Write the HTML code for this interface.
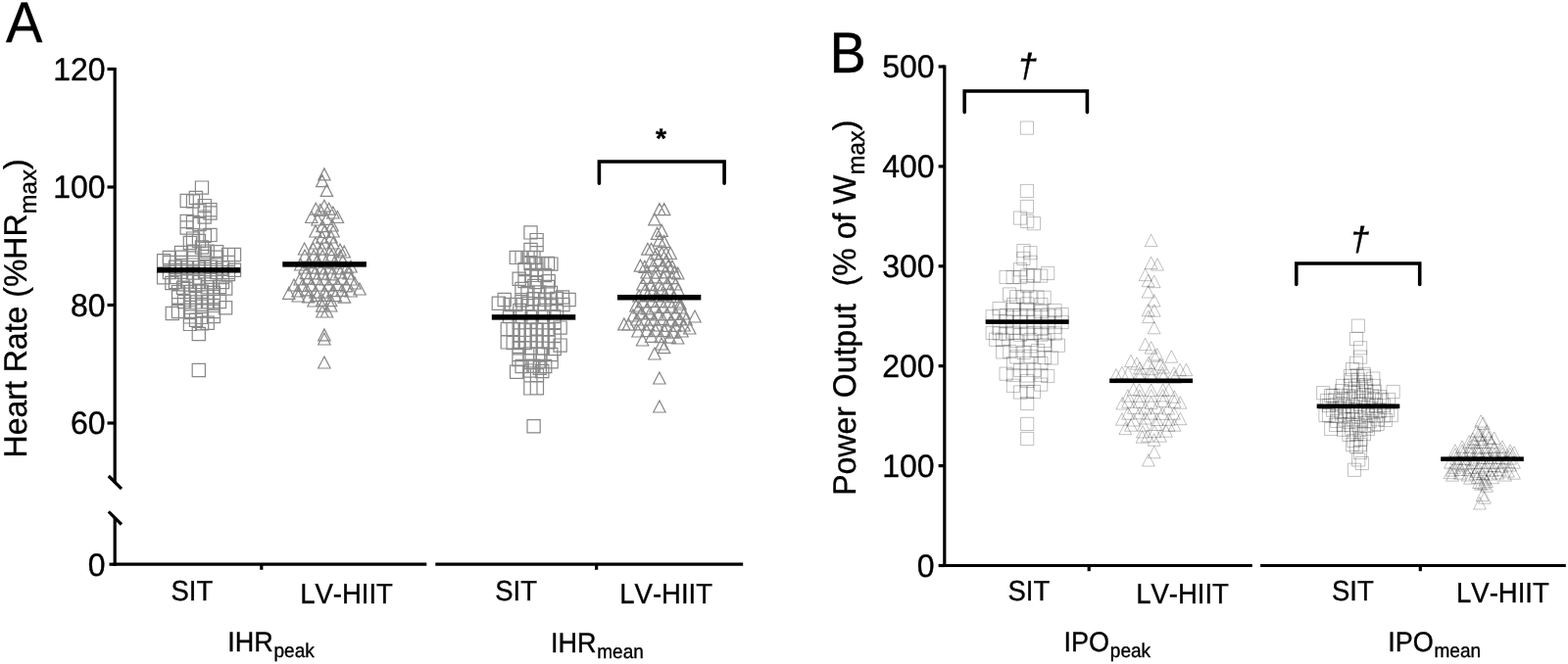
<!DOCTYPE html>
<html lang="en">
<head>
<meta charset="utf-8">
<title>Figure: Heart rate and power output during SIT and LV-HIIT</title>
<style>
html,body{margin:0;padding:0;background:#fff;}
body{width:1600px;height:678px;overflow:hidden;}
svg{display:block;font-family:"Liberation Sans", sans-serif;fill:#000;font-kerning:none;text-rendering:geometricPrecision;}
svg text{stroke:#000;stroke-width:0.35px;}
</style>
</head>
<body>
<svg width="1600" height="678" viewBox="0 0 1600 678">
<rect width="1600" height="678" fill="#fff"/>
<path d="M199.4 185.0h13.2v13.2h-13.2zM193.3 195.4h13.2v13.2h-13.2zM184.1 198.4h13.2v13.2h-13.2zM190.4 198.9h13.2v13.2h-13.2zM202.2 203.5h13.2v13.2h-13.2zM207.9 207.6h13.2v13.2h-13.2zM196.9 208.2h13.2v13.2h-13.2zM207.9 210.9h13.2v13.2h-13.2zM202.1 215.0h13.2v13.2h-13.2zM184.1 219.4h13.2v13.2h-13.2zM190.4 220.4h13.2v13.2h-13.2zM184.1 225.9h13.2v13.2h-13.2zM196.9 222.4h13.2v13.2h-13.2zM207.9 233.3h13.2v13.2h-13.2zM202.2 234.1h13.2v13.2h-13.2zM190.4 237.0h13.2v13.2h-13.2zM187.3 241.4h13.2v13.2h-13.2zM196.4 239.4h13.2v13.2h-13.2zM199.4 245.9h13.2v13.2h-13.2zM205.1 250.0h13.2v13.2h-13.2zM214.6 250.7h13.2v13.2h-13.2zM226.4 253.3h13.2v13.2h-13.2zM232.4 253.4h13.2v13.2h-13.2zM166.2 256.4h13.2v13.2h-13.2zM160.5 259.6h13.2v13.2h-13.2zM196.2 334.4h13.2v13.2h-13.2zM196.2 371.4h13.2v13.2h-13.2zM169.2 313.4h13.2v13.2h-13.2zM223.5 307.6h13.2v13.2h-13.2zM187.3 324.3h13.2v13.2h-13.2zM193.4 320.1h13.2v13.2h-13.2zM199.5 323.6h13.2v13.2h-13.2zM205.1 323.2h13.2v13.2h-13.2zM160.5 276.7h13.2v13.2h-13.2zM232.4 269.1h13.2v13.2h-13.2zM226.4 273.4h13.2v13.2h-13.2zM168.8 282.4h13.2v13.2h-13.2zM223.6 288.0h13.2v13.2h-13.2zM175.6 296.9h13.2v13.2h-13.2zM178.4 251.4h13.2v13.2h-13.2zM190.4 250.8h13.2v13.2h-13.2zM202.4 252.1h13.2v13.2h-13.2zM178.4 256.2h13.2v13.2h-13.2zM190.4 256.9h13.2v13.2h-13.2zM202.4 255.3h13.2v13.2h-13.2zM214.4 256.1h13.2v13.2h-13.2zM166.4 261.4h13.2v13.2h-13.2zM178.4 261.4h13.2v13.2h-13.2zM190.4 261.3h13.2v13.2h-13.2zM202.4 261.5h13.2v13.2h-13.2zM214.4 262.3h13.2v13.2h-13.2zM226.4 261.4h13.2v13.2h-13.2zM172.4 266.2h13.2v13.2h-13.2zM184.4 266.6h13.2v13.2h-13.2zM196.4 266.6h13.2v13.2h-13.2zM208.4 266.2h13.2v13.2h-13.2zM220.4 266.8h13.2v13.2h-13.2zM166.4 271.4h13.2v13.2h-13.2zM178.4 271.1h13.2v13.2h-13.2zM190.4 271.9h13.2v13.2h-13.2zM202.4 270.6h13.2v13.2h-13.2zM214.4 271.5h13.2v13.2h-13.2zM226.4 271.4h13.2v13.2h-13.2zM172.4 276.3h13.2v13.2h-13.2zM184.4 275.2h13.2v13.2h-13.2zM196.4 277.0h13.2v13.2h-13.2zM208.4 276.2h13.2v13.2h-13.2zM220.4 276.4h13.2v13.2h-13.2zM172.4 281.4h13.2v13.2h-13.2zM184.4 281.0h13.2v13.2h-13.2zM196.4 281.3h13.2v13.2h-13.2zM208.4 281.6h13.2v13.2h-13.2zM220.4 281.4h13.2v13.2h-13.2zM180.5 287.2h13.2v13.2h-13.2zM192.8 285.2h13.2v13.2h-13.2zM205.1 286.7h13.2v13.2h-13.2zM217.4 286.4h13.2v13.2h-13.2zM175.4 291.4h13.2v13.2h-13.2zM187.4 291.3h13.2v13.2h-13.2zM199.4 291.1h13.2v13.2h-13.2zM211.4 292.4h13.2v13.2h-13.2zM187.4 297.2h13.2v13.2h-13.2zM199.4 296.9h13.2v13.2h-13.2zM211.4 296.5h13.2v13.2h-13.2zM181.4 301.4h13.2v13.2h-13.2zM193.4 301.8h13.2v13.2h-13.2zM205.4 301.7h13.2v13.2h-13.2zM217.4 301.4h13.2v13.2h-13.2zM187.4 307.3h13.2v13.2h-13.2zM199.4 306.2h13.2v13.2h-13.2zM211.4 305.3h13.2v13.2h-13.2zM175.4 311.4h13.2v13.2h-13.2zM187.4 312.5h13.2v13.2h-13.2zM199.4 311.0h13.2v13.2h-13.2zM211.4 311.4h13.2v13.2h-13.2zM187.4 316.8h13.2v13.2h-13.2zM199.4 317.3h13.2v13.2h-13.2zM211.4 316.4h13.2v13.2h-13.2z" fill="none" stroke="#888" stroke-width="1.2"/>
<path d="M330.9 171.9L337.1 183.9H324.7zM328.8 178.6L335.0 190.6H322.6zM333.4 188.4L339.6 200.4H327.2zM330.9 204.2L337.1 216.2H324.7zM322.2 207.2L328.4 219.2H316.0zM326.8 208.5L333.0 220.5H320.6zM335.7 207.2L341.9 219.2H329.5zM339.9 211.0L346.1 223.0H333.7zM344.4 215.5L350.6 227.5H338.2zM317.8 215.5L324.0 227.5H311.6zM330.9 335.9L337.1 347.9H324.7zM330.9 340.0L337.1 352.0H324.7zM330.9 364.0L337.1 376.0H324.7zM328.9 312.0L335.1 324.0H322.7zM333.5 312.0L339.7 324.0H327.3zM294.8 293.3L301.0 305.3H288.6zM367.0 289.0L373.2 301.0H360.8zM304.3 296.0L310.5 308.0H298.1zM310.6 248.0L316.8 260.0H304.4zM351.2 251.0L357.4 263.0H345.0zM306.8 264.0L313.0 276.0H300.6zM358.0 266.0L364.2 278.0H351.8zM300.0 285.0L306.2 297.0H293.8zM362.0 283.0L368.2 295.0H355.8zM324.0 218.0L330.2 230.0H317.8zM333.3 217.4L339.5 229.4H327.1zM329.0 224.7L335.2 236.7H322.8zM339.0 224.0L345.2 236.0H332.8zM322.0 230.0L328.2 242.0H315.8zM331.0 230.5L337.2 242.5H324.8zM340.0 230.0L346.2 242.0H333.8zM328.7 236.1L334.9 248.1H322.5zM338.0 236.0L344.2 248.0H331.8zM322.0 242.0L328.2 254.0H315.8zM331.0 242.0L337.2 254.0H324.8zM340.0 242.0L346.2 254.0H333.8zM319.6 247.9L325.8 259.9H313.4zM328.7 248.2L334.9 260.2H322.5zM337.9 248.6L344.1 260.6H331.7zM347.0 249.0L353.2 261.0H340.8zM311.0 255.0L317.2 267.0H304.8zM320.1 255.2L326.3 267.2H313.9zM329.2 255.2L335.4 267.2H323.0zM338.3 254.8L344.5 266.8H332.1zM347.4 255.4L353.6 267.4H341.2zM315.3 261.7L321.5 273.7H309.1zM323.9 259.9L330.1 271.9H317.7zM332.5 261.2L338.7 273.2H326.3zM341.1 262.2L347.3 274.2H334.9zM349.7 260.4L355.9 272.4H343.5zM311.0 267.0L317.2 279.0H304.8zM319.6 267.1L325.8 279.1H313.4zM328.2 267.8L334.4 279.8H322.0zM336.8 267.0L343.0 279.0H330.6zM345.4 267.9L351.6 279.9H339.2zM354.0 267.0L360.2 279.0H347.8zM312.4 272.6L318.6 284.6H306.2zM321.1 272.9L327.3 284.9H314.9zM329.8 273.2L336.0 285.2H323.6zM338.5 273.8L344.7 285.8H332.3zM347.3 272.0L353.5 284.0H341.1zM356.0 273.0L362.2 285.0H349.8zM306.0 279.0L312.2 291.0H299.8zM314.7 278.0L320.9 290.0H308.5zM323.3 278.5L329.5 290.5H317.1zM332.0 278.9L338.2 290.9H325.8zM340.7 278.3L346.9 290.3H334.5zM349.3 278.3L355.5 290.3H343.1zM358.0 279.0L364.2 291.0H351.8zM308.5 285.5L314.7 297.5H302.3zM317.5 285.1L323.7 297.1H311.3zM326.5 285.0L332.7 297.0H320.3zM335.5 285.2L341.7 297.2H329.3zM344.5 284.5L350.7 296.5H338.3zM353.5 285.9L359.7 297.9H347.3zM304.0 291.0L310.2 303.0H297.8zM313.0 289.8L319.2 301.8H306.8zM322.0 292.1L328.2 304.1H315.8zM331.0 292.1L337.2 304.1H324.8zM340.0 290.6L346.2 302.6H333.8zM349.0 290.3L355.2 302.3H342.8zM358.0 291.0L364.2 303.0H351.8zM314.6 296.9L320.8 308.9H308.4zM323.8 295.6L330.0 307.6H317.6zM333.0 295.3L339.2 307.3H326.8zM342.2 295.6L348.4 307.6H336.0zM351.4 297.2L357.6 309.2H345.2zM320.0 301.0L326.2 313.0H313.8zM328.8 300.3L335.0 312.3H322.6zM337.6 300.7L343.8 312.7H331.4zM328.8 306.2L335.0 318.2H322.6zM337.7 306.0L343.9 318.0H331.5z" fill="none" stroke="#888" stroke-width="1.2"/>
<path d="M534.9 230.8h13.2v13.2h-13.2zM541.0 238.5h13.2v13.2h-13.2zM541.0 243.4h13.2v13.2h-13.2zM534.9 248.4h13.2v13.2h-13.2zM520.2 256.3h13.2v13.2h-13.2zM555.8 263.0h13.2v13.2h-13.2zM523.1 278.1h13.2v13.2h-13.2zM553.1 280.6h13.2v13.2h-13.2zM525.9 288.4h13.2v13.2h-13.2zM567.4 296.9h13.2v13.2h-13.2zM502.2 303.2h13.2v13.2h-13.2zM574.0 299.4h13.2v13.2h-13.2zM508.1 299.4h13.2v13.2h-13.2zM511.2 329.4h13.2v13.2h-13.2zM565.0 328.0h13.2v13.2h-13.2zM511.2 342.8h13.2v13.2h-13.2zM565.0 346.0h13.2v13.2h-13.2zM520.5 373.1h13.2v13.2h-13.2zM534.8 389.8h13.2v13.2h-13.2zM541.3 389.6h13.2v13.2h-13.2zM534.8 376.7h13.2v13.2h-13.2zM541.4 376.7h13.2v13.2h-13.2zM544.2 369.2h13.2v13.2h-13.2zM556.0 362.6h13.2v13.2h-13.2zM538.0 428.7h13.2v13.2h-13.2zM526.0 256.3h13.2v13.2h-13.2zM531.9 256.3h13.2v13.2h-13.2zM522.9 360.4h13.2v13.2h-13.2zM514.0 304.4h13.2v13.2h-13.2zM537.8 256.4h13.2v13.2h-13.2zM534.9 262.4h13.2v13.2h-13.2zM540.7 263.0h13.2v13.2h-13.2zM546.6 262.4h13.2v13.2h-13.2zM552.4 262.4h13.2v13.2h-13.2zM528.9 268.4h13.2v13.2h-13.2zM540.8 269.2h13.2v13.2h-13.2zM535.7 274.3h13.2v13.2h-13.2zM549.4 274.4h13.2v13.2h-13.2zM528.9 280.4h13.2v13.2h-13.2zM540.9 281.5h13.2v13.2h-13.2zM538.7 285.3h13.2v13.2h-13.2zM552.4 286.4h13.2v13.2h-13.2zM531.9 292.4h13.2v13.2h-13.2zM543.6 291.9h13.2v13.2h-13.2zM555.4 292.4h13.2v13.2h-13.2zM525.8 299.6h13.2v13.2h-13.2zM537.7 298.9h13.2v13.2h-13.2zM549.5 299.2h13.2v13.2h-13.2zM561.4 298.4h13.2v13.2h-13.2zM519.9 304.4h13.2v13.2h-13.2zM531.9 303.3h13.2v13.2h-13.2zM543.9 303.6h13.2v13.2h-13.2zM555.9 304.1h13.2v13.2h-13.2zM567.9 304.4h13.2v13.2h-13.2zM523.7 310.4h13.2v13.2h-13.2zM536.3 311.6h13.2v13.2h-13.2zM548.8 310.4h13.2v13.2h-13.2zM561.4 310.4h13.2v13.2h-13.2zM513.4 316.4h13.2v13.2h-13.2zM524.7 316.6h13.2v13.2h-13.2zM536.1 317.5h13.2v13.2h-13.2zM547.4 317.3h13.2v13.2h-13.2zM558.7 316.5h13.2v13.2h-13.2zM523.1 322.6h13.2v13.2h-13.2zM535.1 322.1h13.2v13.2h-13.2zM547.1 322.7h13.2v13.2h-13.2zM559.1 322.4h13.2v13.2h-13.2zM517.1 329.4h13.2v13.2h-13.2zM529.1 330.1h13.2v13.2h-13.2zM541.1 329.8h13.2v13.2h-13.2zM553.1 330.0h13.2v13.2h-13.2zM523.1 336.0h13.2v13.2h-13.2zM535.1 335.6h13.2v13.2h-13.2zM547.1 336.0h13.2v13.2h-13.2zM559.1 336.4h13.2v13.2h-13.2zM517.1 343.4h13.2v13.2h-13.2zM529.1 343.4h13.2v13.2h-13.2zM541.1 342.2h13.2v13.2h-13.2zM553.1 342.6h13.2v13.2h-13.2zM523.1 348.7h13.2v13.2h-13.2zM535.1 348.7h13.2v13.2h-13.2zM547.1 349.0h13.2v13.2h-13.2zM559.1 349.4h13.2v13.2h-13.2zM522.9 355.4h13.2v13.2h-13.2zM533.8 354.9h13.2v13.2h-13.2zM544.8 354.8h13.2v13.2h-13.2zM555.7 355.4h13.2v13.2h-13.2zM534.2 361.6h13.2v13.2h-13.2zM544.6 361.9h13.2v13.2h-13.2zM526.0 367.4h13.2v13.2h-13.2zM537.8 367.2h13.2v13.2h-13.2zM549.6 367.4h13.2v13.2h-13.2zM534.8 372.0h13.2v13.2h-13.2zM546.7 372.4h13.2v13.2h-13.2z" fill="none" stroke="#888" stroke-width="1.2"/>
<path d="M672.9 207.6L679.1 219.6H666.7zM677.7 207.6L683.9 219.6H671.5zM667.9 217.9L674.1 229.9H661.7zM675.2 229.4L681.4 241.4H669.0zM670.6 232.4L676.8 244.4H664.4zM672.9 239.2L679.1 251.2H666.7zM677.7 240.6L683.9 252.6H671.5zM660.9 248.2L667.1 260.2H654.7zM664.6 248.2L670.8 260.2H658.4zM669.9 253.0L676.1 265.0H663.7zM675.2 252.5L681.4 264.5H669.0zM679.7 252.5L685.9 264.5H673.5zM684.2 252.5L690.4 264.5H678.0zM653.4 265.1L659.6 277.1H647.2zM657.9 266.3L664.1 278.3H651.7zM681.9 265.6L688.1 277.6H675.7zM691.7 273.0L697.9 285.0H685.5zM709.0 317.0L715.2 329.0H702.8zM636.8 324.9L643.0 336.9H630.6zM641.3 325.1L647.5 337.1H635.1zM703.7 329.0L709.9 341.0H697.5zM655.6 341.0L661.8 353.0H649.4zM691.7 339.0L697.9 351.0H685.5zM675.0 345.0L681.2 357.0H668.8zM677.7 348.6L683.9 360.6H671.5zM667.9 355.0L674.1 367.0H661.7zM672.9 380.0L679.1 392.0H666.7zM672.9 409.0L679.1 421.0H666.7zM649.0 306.0L655.2 318.0H642.8zM694.0 304.0L700.2 316.0H687.8zM646.0 316.0L652.2 328.0H639.8zM700.0 320.0L706.2 332.0H693.8zM664.0 260.0L670.2 272.0H657.8zM672.0 259.4L678.2 271.4H665.8zM680.0 260.0L686.2 272.0H673.8zM666.8 264.9L673.0 276.9H660.6zM676.4 264.8L682.6 276.8H670.2zM686.0 266.0L692.2 278.0H679.8zM660.0 272.0L666.2 284.0H653.8zM669.3 272.1L675.5 284.1H663.1zM678.7 271.8L684.9 283.8H672.5zM688.0 272.0L694.2 284.0H681.8zM660.2 277.4L666.4 289.4H654.0zM668.8 276.9L675.0 288.9H662.6zM677.2 277.2L683.4 289.2H671.0zM685.8 277.6L692.0 289.6H679.6zM656.0 284.0L662.2 296.0H649.8zM664.4 284.4L670.6 296.4H658.2zM672.8 284.8L679.0 296.8H666.6zM681.1 283.4L687.3 295.4H674.9zM689.5 284.0L695.7 296.0H683.3zM658.2 290.4L664.4 302.4H652.0zM666.7 290.7L672.9 302.7H660.5zM675.1 288.9L681.3 300.9H668.9zM683.6 290.2L689.8 302.2H677.4zM692.0 290.0L698.2 302.0H685.8zM652.0 296.0L658.2 308.0H645.8zM660.9 295.4L667.1 307.4H654.7zM669.8 295.9L676.0 307.9H663.6zM678.7 294.8L684.9 306.8H672.5zM687.6 296.6L693.8 308.6H681.4zM656.4 301.8L662.6 313.8H650.2zM665.3 301.3L671.5 313.3H659.1zM674.2 301.6L680.4 313.6H668.0zM683.1 301.9L689.3 313.9H676.9zM692.0 302.0L698.2 314.0H685.8zM652.0 308.0L658.2 320.0H645.8zM660.4 308.8L666.6 320.8H654.2zM668.8 307.0L675.0 319.0H662.6zM677.2 307.4L683.4 319.4H671.0zM685.6 307.0L691.8 319.0H679.4zM694.0 308.0L700.2 320.0H687.8zM654.4 313.9L660.6 325.9H648.2zM663.1 313.7L669.3 325.7H656.9zM671.8 315.0L678.0 327.0H665.6zM680.5 314.8L686.7 326.8H674.3zM689.3 314.5L695.5 326.5H683.1zM698.0 314.0L704.2 326.0H691.8zM650.0 320.0L656.2 332.0H643.8zM658.7 320.0L664.9 332.0H652.5zM667.5 320.2L673.7 332.2H661.3zM676.2 319.5L682.4 331.5H670.0zM684.9 320.9L691.1 332.9H678.7zM693.6 319.8L699.8 331.8H687.4zM652.5 324.9L658.7 336.9H646.3zM661.6 325.2L667.8 337.2H655.4zM670.7 326.0L676.9 338.0H664.5zM679.8 326.4L686.0 338.4H673.6zM688.9 326.4L695.1 338.4H682.7zM698.0 326.0L704.2 338.0H691.8zM651.0 332.0L657.2 344.0H644.8zM660.0 331.6L666.2 343.6H653.8zM669.0 331.3L675.2 343.3H662.8zM678.0 331.6L684.2 343.6H671.8zM687.0 333.2L693.2 345.2H680.8zM696.0 332.0L702.2 344.0H689.8zM664.7 337.3L670.9 349.3H658.5zM674.0 337.7L680.2 349.7H667.8zM683.3 338.2L689.5 350.2H677.1z" fill="none" stroke="#888" stroke-width="1.2"/>
<g fill="none" stroke="#000" stroke-width="0.6" stroke-opacity="0.42"><path d="M1041.3 124.0h13.2v13.2h-13.2z"/><path d="M1041.3 188.4h13.2v13.2h-13.2z"/><path d="M1041.3 204.4h13.2v13.2h-13.2z"/><path d="M1034.4 216.0h13.2v13.2h-13.2z"/><path d="M1041.6 219.4h13.2v13.2h-13.2z"/><path d="M1048.3 221.6h13.2v13.2h-13.2z"/><path d="M1037.8 249.5h13.2v13.2h-13.2z"/><path d="M1044.8 251.6h13.2v13.2h-13.2z"/><path d="M1037.8 257.3h13.2v13.2h-13.2z"/><path d="M1044.8 261.2h13.2v13.2h-13.2z"/><path d="M1034.4 268.6h13.2v13.2h-13.2z"/><path d="M1020.0 276.4h13.2v13.2h-13.2z"/><path d="M1027.1 276.4h13.2v13.2h-13.2z"/><path d="M1034.4 276.4h13.2v13.2h-13.2z"/><path d="M1041.6 274.9h13.2v13.2h-13.2z"/><path d="M1048.3 274.9h13.2v13.2h-13.2z"/><path d="M1055.6 275.0h13.2v13.2h-13.2z"/><path d="M1062.6 272.4h13.2v13.2h-13.2z"/><path d="M1013.0 308.5h13.2v13.2h-13.2z"/><path d="M1006.1 316.7h13.2v13.2h-13.2z"/><path d="M1077.0 314.5h13.2v13.2h-13.2z"/><path d="M1006.1 333.3h13.2v13.2h-13.2z"/><path d="M1009.4 340.1h13.2v13.2h-13.2z"/><path d="M1073.3 346.1h13.2v13.2h-13.2z"/><path d="M1016.6 352.8h13.2v13.2h-13.2z"/><path d="M1066.4 358.9h13.2v13.2h-13.2z"/><path d="M1020.0 375.1h13.2v13.2h-13.2z"/><path d="M1062.6 377.4h13.2v13.2h-13.2z"/><path d="M1027.3 387.2h13.2v13.2h-13.2z"/><path d="M1055.6 386.0h13.2v13.2h-13.2z"/><path d="M1034.4 393.9h13.2v13.2h-13.2z"/><path d="M1041.4 393.6h13.2v13.2h-13.2z"/><path d="M1048.3 393.4h13.2v13.2h-13.2z"/><path d="M1041.6 405.4h13.2v13.2h-13.2z"/><path d="M1041.6 426.3h13.2v13.2h-13.2z"/><path d="M1041.6 441.4h13.2v13.2h-13.2z"/><path d="M1023.5 293.9h13.2v13.2h-13.2z"/><path d="M1030.6 296.4h13.2v13.2h-13.2z"/><path d="M1037.7 296.9h13.2v13.2h-13.2z"/><path d="M1044.8 296.9h13.2v13.2h-13.2z"/><path d="M1051.9 296.9h13.2v13.2h-13.2z"/><path d="M1059.0 297.2h13.2v13.2h-13.2z"/><path d="M1041.6 285.4h13.2v13.2h-13.2z"/><path d="M1027.4 304.4h13.2v13.2h-13.2z"/><path d="M1041.6 303.8h13.2v13.2h-13.2z"/><path d="M1055.8 304.4h13.2v13.2h-13.2z"/><path d="M1027.3 309.3h13.2v13.2h-13.2z"/><path d="M1041.5 309.2h13.2v13.2h-13.2z"/><path d="M1055.7 311.5h13.2v13.2h-13.2z"/><path d="M1069.9 310.4h13.2v13.2h-13.2z"/><path d="M1013.2 315.9h13.2v13.2h-13.2z"/><path d="M1020.3 315.6h13.2v13.2h-13.2z"/><path d="M1027.4 315.7h13.2v13.2h-13.2z"/><path d="M1034.5 315.2h13.2v13.2h-13.2z"/><path d="M1041.6 315.9h13.2v13.2h-13.2z"/><path d="M1048.7 315.3h13.2v13.2h-13.2z"/><path d="M1055.8 315.8h13.2v13.2h-13.2z"/><path d="M1062.9 314.8h13.2v13.2h-13.2z"/><path d="M1070.0 315.9h13.2v13.2h-13.2z"/><path d="M1020.1 321.6h13.2v13.2h-13.2z"/><path d="M1034.3 322.0h13.2v13.2h-13.2z"/><path d="M1048.6 322.2h13.2v13.2h-13.2z"/><path d="M1062.8 322.6h13.2v13.2h-13.2z"/><path d="M1077.0 322.4h13.2v13.2h-13.2z"/><path d="M1013.0 328.4h13.2v13.2h-13.2z"/><path d="M1027.2 328.2h13.2v13.2h-13.2z"/><path d="M1041.4 328.8h13.2v13.2h-13.2z"/><path d="M1055.7 329.1h13.2v13.2h-13.2z"/><path d="M1069.9 327.3h13.2v13.2h-13.2z"/><path d="M1013.2 333.9h13.2v13.2h-13.2z"/><path d="M1020.3 334.1h13.2v13.2h-13.2z"/><path d="M1027.4 333.1h13.2v13.2h-13.2z"/><path d="M1034.5 335.1h13.2v13.2h-13.2z"/><path d="M1041.6 334.0h13.2v13.2h-13.2z"/><path d="M1048.7 333.3h13.2v13.2h-13.2z"/><path d="M1055.8 335.0h13.2v13.2h-13.2z"/><path d="M1062.9 333.8h13.2v13.2h-13.2z"/><path d="M1070.0 333.9h13.2v13.2h-13.2z"/><path d="M1016.4 340.4h13.2v13.2h-13.2z"/><path d="M1030.7 341.2h13.2v13.2h-13.2z"/><path d="M1045.0 340.4h13.2v13.2h-13.2z"/><path d="M1059.3 341.3h13.2v13.2h-13.2z"/><path d="M1030.8 346.4h13.2v13.2h-13.2z"/><path d="M1045.1 346.7h13.2v13.2h-13.2z"/><path d="M1059.3 345.8h13.2v13.2h-13.2z"/><path d="M1023.7 352.4h13.2v13.2h-13.2z"/><path d="M1038.0 353.2h13.2v13.2h-13.2z"/><path d="M1052.3 351.4h13.2v13.2h-13.2z"/><path d="M1030.8 357.8h13.2v13.2h-13.2z"/><path d="M1045.1 357.4h13.2v13.2h-13.2z"/><path d="M1059.4 358.4h13.2v13.2h-13.2z"/><path d="M1027.4 364.4h13.2v13.2h-13.2z"/><path d="M1041.6 364.3h13.2v13.2h-13.2z"/><path d="M1055.8 364.4h13.2v13.2h-13.2z"/><path d="M1034.5 371.4h13.2v13.2h-13.2z"/><path d="M1048.7 371.2h13.2v13.2h-13.2z"/><path d="M1027.4 376.4h13.2v13.2h-13.2z"/><path d="M1041.6 376.9h13.2v13.2h-13.2z"/><path d="M1055.8 376.4h13.2v13.2h-13.2z"/><path d="M1041.5 382.4h13.2v13.2h-13.2z"/></g>
<g fill="none" stroke="#000" stroke-width="0.6" stroke-opacity="0.42"><path d="M1174.6 239.2L1181.0 251.6H1168.2z"/><path d="M1174.6 262.2L1181.0 274.6H1168.2z"/><path d="M1181.0 263.7L1187.4 276.1H1174.6z"/><path d="M1168.6 274.3L1175.0 286.7H1162.2z"/><path d="M1171.6 280.3L1178.0 292.7H1165.2z"/><path d="M1177.7 281.3L1184.1 293.7H1171.3z"/><path d="M1171.6 291.6L1178.0 304.0H1165.2z"/><path d="M1177.7 300.6L1184.1 313.0H1171.3z"/><path d="M1171.6 310.4L1178.0 322.8H1165.2z"/><path d="M1177.7 310.8L1184.1 323.2H1171.3z"/><path d="M1171.9 317.2L1178.3 329.6H1165.5z"/><path d="M1177.7 328.4L1184.1 340.8H1171.3z"/><path d="M1168.6 345.3L1175.0 357.7H1162.2z"/><path d="M1174.6 348.7L1181.0 361.1H1168.2z"/><path d="M1180.7 355.5L1187.1 367.9H1174.3z"/><path d="M1177.7 356.8L1184.1 369.2H1171.3z"/><path d="M1153.9 362.3L1160.3 374.7H1147.5z"/><path d="M1195.4 357.8L1201.8 370.2H1189.0z"/><path d="M1138.9 376.6L1145.3 389.0H1132.5z"/><path d="M1144.9 374.3L1151.3 386.7H1138.5z"/><path d="M1204.0 371.3L1210.4 383.7H1197.6z"/><path d="M1210.4 371.3L1216.8 383.7H1204.0z"/><path d="M1145.3 405.6L1151.7 418.0H1138.9z"/><path d="M1204.4 404.8L1210.8 417.2H1198.0z"/><path d="M1144.9 421.8L1151.3 434.2H1138.5z"/><path d="M1204.4 421.3L1210.8 433.7H1198.0z"/><path d="M1148.3 431.3L1154.7 443.7H1141.9z"/><path d="M1198.4 427.8L1204.8 440.2H1192.0z"/><path d="M1165.6 439.8L1172.0 452.2H1159.2z"/><path d="M1177.7 442.8L1184.1 455.2H1171.3z"/><path d="M1177.7 455.4L1184.1 467.8H1171.3z"/><path d="M1171.9 463.6L1178.3 476.0H1165.5z"/><path d="M1156.6 391.3L1163.0 403.7H1150.2z"/><path d="M1192.7 391.8L1199.1 404.2H1186.3z"/><path d="M1150.9 397.8L1157.3 410.2H1144.5z"/><path d="M1198.4 398.8L1204.8 411.2H1192.0z"/><path d="M1160.0 364.8L1166.4 377.2H1153.6z"/><path d="M1172.0 364.2L1178.4 376.6H1165.6z"/><path d="M1184.0 365.5L1190.4 377.9H1177.6z"/><path d="M1163.0 369.6L1169.4 382.0H1156.6z"/><path d="M1175.0 370.3L1181.4 382.7H1168.6z"/><path d="M1187.0 368.7L1193.4 381.1H1180.6z"/><path d="M1151.0 374.8L1157.4 387.2H1144.6z"/><path d="M1162.8 374.6L1169.2 387.0H1156.4z"/><path d="M1174.5 374.8L1180.9 387.2H1168.1z"/><path d="M1186.2 374.7L1192.6 387.1H1179.8z"/><path d="M1198.0 374.8L1204.4 387.2H1191.6z"/><path d="M1163.0 378.0L1169.4 390.4H1156.6z"/><path d="M1175.0 378.4L1181.4 390.8H1168.6z"/><path d="M1187.0 378.6L1193.4 391.0H1180.6z"/><path d="M1199.0 378.8L1205.4 391.2H1192.6z"/><path d="M1162.6 391.8L1169.0 404.2H1156.2z"/><path d="M1174.7 392.0L1181.1 404.4H1168.3z"/><path d="M1186.7 391.8L1193.1 404.2H1180.3z"/><path d="M1162.9 397.9L1169.3 410.3H1156.5z"/><path d="M1174.7 397.7L1181.1 410.1H1168.3z"/><path d="M1186.5 397.5L1192.9 409.9H1180.1z"/><path d="M1151.0 403.8L1157.4 416.2H1144.6z"/><path d="M1162.8 404.0L1169.2 416.4H1156.4z"/><path d="M1174.7 405.0L1181.1 417.4H1168.3z"/><path d="M1186.6 403.2L1193.0 415.6H1180.2z"/><path d="M1198.4 403.8L1204.8 416.2H1192.0z"/><path d="M1156.9 409.9L1163.3 422.3H1150.5z"/><path d="M1168.6 410.6L1175.0 423.0H1162.2z"/><path d="M1180.4 409.8L1186.8 422.2H1174.0z"/><path d="M1192.1 410.7L1198.5 423.1H1185.7z"/><path d="M1151.0 415.8L1157.4 428.2H1144.6z"/><path d="M1162.8 415.4L1169.2 427.8H1156.4z"/><path d="M1174.5 415.7L1180.9 428.1H1168.1z"/><path d="M1186.2 416.0L1192.6 428.4H1179.8z"/><path d="M1198.0 415.8L1204.4 428.2H1191.6z"/><path d="M1156.8 422.6L1163.2 435.0H1150.4z"/><path d="M1168.7 420.6L1175.1 433.0H1162.3z"/><path d="M1180.6 422.1L1187.0 434.5H1174.2z"/><path d="M1192.5 421.9L1198.9 434.3H1186.1z"/><path d="M1154.0 427.8L1160.4 440.2H1147.6z"/><path d="M1166.8 427.7L1173.2 440.1H1160.4z"/><path d="M1179.7 427.1L1186.1 439.5H1173.3z"/><path d="M1192.5 427.8L1198.9 440.2H1186.1z"/><path d="M1166.0 434.6L1172.4 447.0H1159.6z"/><path d="M1178.0 434.3L1184.4 446.7H1171.6z"/><path d="M1190.0 433.8L1196.4 446.2H1183.6z"/><path d="M1171.0 438.8L1177.4 451.2H1164.6z"/><path d="M1184.0 438.8L1190.4 451.2H1177.6z"/></g>
<g fill="none" stroke="#000" stroke-width="0.6" stroke-opacity="0.42"><path d="M1379.3 326.1h13.2v13.2h-13.2z"/><path d="M1377.4 339.4h13.2v13.2h-13.2z"/><path d="M1381.5 348.7h13.2v13.2h-13.2z"/><path d="M1381.5 358.0h13.2v13.2h-13.2z"/><path d="M1377.4 364.2h13.2v13.2h-13.2z"/><path d="M1373.5 370.5h13.2v13.2h-13.2z"/><path d="M1385.0 375.3h13.2v13.2h-13.2z"/><path d="M1394.7 380.0h13.2v13.2h-13.2z"/><path d="M1343.6 394.6h13.2v13.2h-13.2z"/><path d="M1415.0 393.4h13.2v13.2h-13.2z"/><path d="M1347.4 402.4h13.2v13.2h-13.2z"/><path d="M1351.6 431.4h13.2v13.2h-13.2z"/><path d="M1399.0 426.4h13.2v13.2h-13.2z"/><path d="M1407.2 422.4h13.2v13.2h-13.2z"/><path d="M1377.4 449.4h13.2v13.2h-13.2z"/><path d="M1379.6 462.8h13.2v13.2h-13.2z"/><path d="M1383.2 466.4h13.2v13.2h-13.2z"/><path d="M1375.4 473.2h13.2v13.2h-13.2z"/><path d="M1345.9 417.4h13.2v13.2h-13.2z"/><path d="M1413.2 417.4h13.2v13.2h-13.2z"/><path d="M1351.4 397.4h13.2v13.2h-13.2z"/><path d="M1410.4 401.4h13.2v13.2h-13.2z"/><path d="M1371.4 377.4h13.2v13.2h-13.2z"/><path d="M1378.4 376.8h13.2v13.2h-13.2z"/><path d="M1385.4 377.4h13.2v13.2h-13.2z"/><path d="M1372.1 381.3h13.2v13.2h-13.2z"/><path d="M1379.4 381.2h13.2v13.2h-13.2z"/><path d="M1386.7 383.5h13.2v13.2h-13.2z"/><path d="M1363.4 387.4h13.2v13.2h-13.2z"/><path d="M1371.4 387.1h13.2v13.2h-13.2z"/><path d="M1379.4 386.7h13.2v13.2h-13.2z"/><path d="M1387.4 386.8h13.2v13.2h-13.2z"/><path d="M1395.4 387.4h13.2v13.2h-13.2z"/><path d="M1362.6 392.5h13.2v13.2h-13.2z"/><path d="M1371.0 393.3h13.2v13.2h-13.2z"/><path d="M1379.4 392.9h13.2v13.2h-13.2z"/><path d="M1387.8 392.8h13.2v13.2h-13.2z"/><path d="M1396.2 393.2h13.2v13.2h-13.2z"/><path d="M1353.4 397.4h13.2v13.2h-13.2z"/><path d="M1361.4 397.2h13.2v13.2h-13.2z"/><path d="M1369.4 397.8h13.2v13.2h-13.2z"/><path d="M1377.4 398.1h13.2v13.2h-13.2z"/><path d="M1385.4 396.3h13.2v13.2h-13.2z"/><path d="M1393.4 397.6h13.2v13.2h-13.2z"/><path d="M1401.4 398.6h13.2v13.2h-13.2z"/><path d="M1355.4 401.8h13.2v13.2h-13.2z"/><path d="M1363.4 402.3h13.2v13.2h-13.2z"/><path d="M1371.4 401.2h13.2v13.2h-13.2z"/><path d="M1379.4 403.0h13.2v13.2h-13.2z"/><path d="M1387.4 402.2h13.2v13.2h-13.2z"/><path d="M1395.4 401.7h13.2v13.2h-13.2z"/><path d="M1403.4 402.0h13.2v13.2h-13.2z"/><path d="M1349.4 407.4h13.2v13.2h-13.2z"/><path d="M1357.4 406.8h13.2v13.2h-13.2z"/><path d="M1365.4 408.1h13.2v13.2h-13.2z"/><path d="M1373.4 408.2h13.2v13.2h-13.2z"/><path d="M1381.4 406.2h13.2v13.2h-13.2z"/><path d="M1389.4 407.7h13.2v13.2h-13.2z"/><path d="M1397.4 407.5h13.2v13.2h-13.2z"/><path d="M1405.4 407.3h13.2v13.2h-13.2z"/><path d="M1353.4 412.1h13.2v13.2h-13.2z"/><path d="M1361.4 413.4h13.2v13.2h-13.2z"/><path d="M1369.4 413.2h13.2v13.2h-13.2z"/><path d="M1377.4 412.9h13.2v13.2h-13.2z"/><path d="M1385.4 412.5h13.2v13.2h-13.2z"/><path d="M1393.4 412.4h13.2v13.2h-13.2z"/><path d="M1401.4 412.6h13.2v13.2h-13.2z"/><path d="M1409.4 412.4h13.2v13.2h-13.2z"/><path d="M1349.4 417.4h13.2v13.2h-13.2z"/><path d="M1357.4 418.3h13.2v13.2h-13.2z"/><path d="M1365.4 417.2h13.2v13.2h-13.2z"/><path d="M1373.4 416.3h13.2v13.2h-13.2z"/><path d="M1381.4 416.6h13.2v13.2h-13.2z"/><path d="M1389.4 417.4h13.2v13.2h-13.2z"/><path d="M1397.4 417.8h13.2v13.2h-13.2z"/><path d="M1405.4 417.8h13.2v13.2h-13.2z"/><path d="M1357.6 423.3h13.2v13.2h-13.2z"/><path d="M1365.9 422.0h13.2v13.2h-13.2z"/><path d="M1374.2 421.7h13.2v13.2h-13.2z"/><path d="M1382.6 422.0h13.2v13.2h-13.2z"/><path d="M1390.9 423.6h13.2v13.2h-13.2z"/><path d="M1399.2 421.6h13.2v13.2h-13.2z"/><path d="M1356.4 427.4h13.2v13.2h-13.2z"/><path d="M1364.2 427.1h13.2v13.2h-13.2z"/><path d="M1372.0 427.6h13.2v13.2h-13.2z"/><path d="M1379.8 427.5h13.2v13.2h-13.2z"/><path d="M1387.6 428.3h13.2v13.2h-13.2z"/><path d="M1395.4 427.4h13.2v13.2h-13.2z"/><path d="M1364.5 432.1h13.2v13.2h-13.2z"/><path d="M1372.8 431.8h13.2v13.2h-13.2z"/><path d="M1381.0 432.3h13.2v13.2h-13.2z"/><path d="M1389.3 431.2h13.2v13.2h-13.2z"/><path d="M1369.9 437.4h13.2v13.2h-13.2z"/><path d="M1377.6 436.8h13.2v13.2h-13.2z"/><path d="M1385.3 436.6h13.2v13.2h-13.2z"/><path d="M1374.9 443.4h13.2v13.2h-13.2z"/><path d="M1381.9 441.9h13.2v13.2h-13.2z"/><path d="M1373.4 447.4h13.2v13.2h-13.2z"/><path d="M1381.4 447.4h13.2v13.2h-13.2z"/><path d="M1381.4 455.4h13.2v13.2h-13.2z"/></g>
<g fill="none" stroke="#000" stroke-width="0.6" stroke-opacity="0.42"><path d="M1511.1 423.7L1517.5 436.1H1504.7z"/><path d="M1513.4 425.9L1519.8 438.3H1507.0z"/><path d="M1511.0 438.0L1517.4 450.4H1504.6z"/><path d="M1499.1 444.7L1505.5 457.1H1492.7z"/><path d="M1524.7 441.0L1531.1 453.4H1518.3z"/><path d="M1484.8 453.7L1491.2 466.1H1478.4z"/><path d="M1545.0 455.8L1551.4 468.2H1538.6z"/><path d="M1479.6 476.3L1486.0 488.7H1473.2z"/><path d="M1545.0 476.8L1551.4 489.2H1538.6z"/><path d="M1482.0 478.8L1488.4 491.2H1475.6z"/><path d="M1514.2 487.3L1520.6 499.7H1507.8z"/><path d="M1512.6 499.3L1519.0 511.7H1506.2z"/><path d="M1514.9 501.8L1521.3 514.2H1508.5z"/><path d="M1510.0 507.6L1516.4 520.0H1503.6z"/><path d="M1511.0 487.8L1517.4 500.2H1504.6z"/><path d="M1517.0 489.8L1523.4 502.2H1510.6z"/><path d="M1507.0 433.8L1513.4 446.2H1500.6z"/><path d="M1517.0 433.8L1523.4 446.2H1510.6z"/><path d="M1509.0 437.7L1515.4 450.1H1502.6z"/><path d="M1517.0 436.7L1523.4 449.1H1510.6z"/><path d="M1503.0 441.8L1509.4 454.2H1496.6z"/><path d="M1511.0 442.3L1517.4 454.7H1504.6z"/><path d="M1519.0 440.7L1525.4 453.1H1512.6z"/><path d="M1504.3 445.5L1510.7 457.9H1497.9z"/><path d="M1513.0 445.1L1519.4 457.5H1506.6z"/><path d="M1521.7 445.2L1528.1 457.6H1515.3z"/><path d="M1492.0 449.8L1498.4 462.2H1485.6z"/><path d="M1500.2 449.9L1506.6 462.3H1493.8z"/><path d="M1508.4 450.7L1514.8 463.1H1502.0z"/><path d="M1516.6 450.3L1523.0 462.7H1510.2z"/><path d="M1524.8 450.2L1531.2 462.6H1518.4z"/><path d="M1533.0 449.8L1539.4 462.2H1526.6z"/><path d="M1492.1 454.0L1498.5 466.4H1485.7z"/><path d="M1500.2 453.6L1506.6 466.0H1493.8z"/><path d="M1508.4 454.2L1514.8 466.6H1502.0z"/><path d="M1516.5 454.5L1522.9 466.9H1510.1z"/><path d="M1524.7 452.7L1531.1 465.1H1518.3z"/><path d="M1532.8 454.0L1539.2 466.4H1526.4z"/><path d="M1541.0 453.8L1547.4 466.2H1534.6z"/><path d="M1485.0 457.8L1491.4 470.2H1478.6z"/><path d="M1493.0 457.2L1499.4 469.6H1486.6z"/><path d="M1501.0 457.7L1507.4 470.1H1494.6z"/><path d="M1509.0 456.6L1515.4 469.0H1502.6z"/><path d="M1517.0 458.4L1523.4 470.8H1510.6z"/><path d="M1525.0 457.6L1531.4 470.0H1518.6z"/><path d="M1533.0 457.1L1539.4 469.5H1526.6z"/><path d="M1541.0 457.4L1547.4 469.8H1534.6z"/><path d="M1485.9 461.7L1492.3 474.1H1479.5z"/><path d="M1493.8 462.0L1500.2 474.4H1487.4z"/><path d="M1501.7 462.6L1508.1 475.0H1495.3z"/><path d="M1509.6 460.8L1516.0 473.2H1503.2z"/><path d="M1517.4 461.2L1523.8 473.6H1511.0z"/><path d="M1525.3 460.8L1531.7 473.2H1518.9z"/><path d="M1533.2 461.3L1539.6 473.7H1526.8z"/><path d="M1541.1 461.7L1547.5 474.1H1534.7z"/><path d="M1480.0 465.8L1486.4 478.2H1473.6z"/><path d="M1488.1 466.8L1494.5 479.2H1481.7z"/><path d="M1496.2 466.6L1502.6 479.0H1489.8z"/><path d="M1504.4 466.3L1510.8 478.7H1498.0z"/><path d="M1512.5 465.9L1518.9 478.3H1506.1z"/><path d="M1520.6 465.8L1527.0 478.2H1514.2z"/><path d="M1528.8 466.0L1535.2 478.4H1522.4z"/><path d="M1536.9 465.3L1543.3 477.7H1530.5z"/><path d="M1545.0 465.8L1551.4 478.2H1538.6z"/><path d="M1484.1 470.9L1490.5 483.3H1477.7z"/><path d="M1492.2 468.6L1498.6 481.0H1485.8z"/><path d="M1500.3 470.9L1506.7 483.3H1493.9z"/><path d="M1508.4 470.9L1514.8 483.3H1502.0z"/><path d="M1516.6 469.4L1523.0 481.8H1510.2z"/><path d="M1524.7 469.1L1531.1 481.5H1518.3z"/><path d="M1532.8 469.8L1539.2 482.2H1526.4z"/><path d="M1540.9 468.6L1547.3 481.0H1534.5z"/><path d="M1482.0 473.8L1488.4 486.2H1475.6z"/><path d="M1490.1 473.1L1496.5 485.5H1483.7z"/><path d="M1498.3 473.4L1504.7 485.8H1491.9z"/><path d="M1506.4 475.0L1512.8 487.4H1500.0z"/><path d="M1514.5 473.0L1520.9 485.4H1508.1z"/><path d="M1522.7 474.0L1529.1 486.4H1516.3z"/><path d="M1530.8 473.3L1537.2 485.7H1524.4z"/><path d="M1538.9 474.7L1545.3 487.1H1532.5z"/><path d="M1489.9 476.7L1496.3 489.1H1483.5z"/><path d="M1497.6 478.6L1504.0 491.0H1491.2z"/><path d="M1505.3 477.5L1511.7 489.9H1498.9z"/><path d="M1513.0 477.2L1519.4 489.6H1506.6z"/><path d="M1520.7 477.7L1527.1 490.1H1514.3z"/><path d="M1528.4 476.6L1534.8 489.0H1522.0z"/><path d="M1536.1 478.7L1542.5 491.1H1529.7z"/><path d="M1500.0 481.8L1506.4 494.2H1493.6z"/><path d="M1507.7 481.0L1514.1 493.4H1501.3z"/><path d="M1515.4 482.8L1521.8 495.2H1509.0z"/><path d="M1523.1 481.3L1529.5 493.7H1516.7z"/><path d="M1509.0 486.2L1515.4 498.6H1502.6z"/><path d="M1517.0 485.3L1523.4 497.7H1510.6z"/></g>
<line x1="117.2" y1="68.9" x2="117.2" y2="493" stroke="#000" stroke-width="3.2" stroke-linecap="butt"/>
<line x1="117.2" y1="528" x2="117.2" y2="577.8000000000001" stroke="#000" stroke-width="3.2" stroke-linecap="butt"/>
<line x1="110.8" y1="486" x2="124" y2="499.2" stroke="#000" stroke-width="3.2" stroke-linecap="butt"/>
<line x1="110.8" y1="522.3" x2="124" y2="535.5" stroke="#000" stroke-width="3.2" stroke-linecap="butt"/>
<line x1="109.5" y1="70.5" x2="117.2" y2="70.5" stroke="#000" stroke-width="3.2" stroke-linecap="butt"/>
<line x1="109.5" y1="191" x2="117.2" y2="191" stroke="#000" stroke-width="3.2" stroke-linecap="butt"/>
<line x1="109.5" y1="311.5" x2="117.2" y2="311.5" stroke="#000" stroke-width="3.2" stroke-linecap="butt"/>
<line x1="109.5" y1="432" x2="117.2" y2="432" stroke="#000" stroke-width="3.2" stroke-linecap="butt"/>
<line x1="111.5" y1="576.2" x2="117.2" y2="576.2" stroke="#000" stroke-width="3.2" stroke-linecap="butt"/>
<line x1="115.60000000000001" y1="576.2" x2="435.3" y2="576.2" stroke="#000" stroke-width="3.2" stroke-linecap="butt"/>
<line x1="444.3" y1="576.2" x2="758.2" y2="576.2" stroke="#000" stroke-width="3.2" stroke-linecap="butt"/>
<line x1="266.8" y1="576.2" x2="266.8" y2="581.8" stroke="#000" stroke-width="3.2" stroke-linecap="butt"/>
<line x1="608.6" y1="576.2" x2="608.6" y2="581.8" stroke="#000" stroke-width="3.2" stroke-linecap="butt"/>
<line x1="963.8" y1="66.4" x2="963.8" y2="579.1" stroke="#000" stroke-width="3.2" stroke-linecap="butt"/>
<line x1="957.6" y1="68" x2="963.8" y2="68" stroke="#000" stroke-width="3.2" stroke-linecap="butt"/>
<line x1="957.6" y1="169.9" x2="963.8" y2="169.9" stroke="#000" stroke-width="3.2" stroke-linecap="butt"/>
<line x1="957.6" y1="271.8" x2="963.8" y2="271.8" stroke="#000" stroke-width="3.2" stroke-linecap="butt"/>
<line x1="957.6" y1="373.7" x2="963.8" y2="373.7" stroke="#000" stroke-width="3.2" stroke-linecap="butt"/>
<line x1="957.6" y1="475.6" x2="963.8" y2="475.6" stroke="#000" stroke-width="3.2" stroke-linecap="butt"/>
<line x1="957.6" y1="577.5" x2="963.8" y2="577.5" stroke="#000" stroke-width="3.2" stroke-linecap="butt"/>
<line x1="962.1999999999999" y1="577.5" x2="1277.8" y2="577.5" stroke="#000" stroke-width="3.2" stroke-linecap="butt"/>
<line x1="1286.1" y1="577.5" x2="1597.8" y2="577.5" stroke="#000" stroke-width="3.2" stroke-linecap="butt"/>
<line x1="1111.2" y1="577.5" x2="1111.2" y2="583.2" stroke="#000" stroke-width="3.2" stroke-linecap="butt"/>
<line x1="1449.3" y1="577.5" x2="1449.3" y2="583.2" stroke="#000" stroke-width="3.2" stroke-linecap="butt"/>
<rect x="160" y="273.05" width="85.30000000000001" height="5.5" fill="#000"/>
<rect x="288.3" y="267.15" width="85.59999999999997" height="5.5" fill="#000"/>
<rect x="501.8" y="321.15" width="85.49999999999994" height="5.5" fill="#000"/>
<rect x="630" y="300.95" width="85.29999999999995" height="5.5" fill="#000"/>
<rect x="1005.7" y="326.3" width="84.89999999999986" height="4.6" fill="#000"/>
<rect x="1132.2" y="386.5" width="84.79999999999995" height="4.6" fill="#000"/>
<rect x="1343.7" y="412.5" width="84.59999999999991" height="4.6" fill="#000"/>
<rect x="1470.2" y="466.4" width="84.59999999999991" height="4.6" fill="#000"/>
<path d="M611.4 187.2V165H739.1V187.2" fill="none" stroke="#000" stroke-width="3.6" stroke-linecap="round" stroke-linejoin="miter"/>
<path d="M984.2 114.6V93H1109.4V114.6" fill="none" stroke="#000" stroke-width="3.6" stroke-linecap="round" stroke-linejoin="miter"/>
<path d="M1322.8 290.5V269H1448.7V290.5" fill="none" stroke="#000" stroke-width="3.6" stroke-linecap="round" stroke-linejoin="miter"/>
<text transform="translate(6,42.9) scale(1,1.05)" font-size="56" text-anchor="start" >A</text>
<text transform="translate(846.5,74.1) scale(1,1.05)" font-size="56" text-anchor="start" >B</text>
<text transform="translate(107.6,81.9) scale(1,1.02)" font-size="32" text-anchor="end" >120</text>
<text transform="translate(107.6,202.4) scale(1,1.02)" font-size="32" text-anchor="end" >100</text>
<text transform="translate(107.6,322.9) scale(1,1.02)" font-size="32" text-anchor="end" >80</text>
<text transform="translate(107.6,443.4) scale(1,1.02)" font-size="32" text-anchor="end" >60</text>
<text transform="translate(107.6,587.6) scale(1,1.02)" font-size="32" text-anchor="end" >0</text>
<text transform="translate(953.6,79.0) scale(1,1.02)" font-size="32" text-anchor="end" >500</text>
<text transform="translate(953.6,180.9) scale(1,1.02)" font-size="32" text-anchor="end" >400</text>
<text transform="translate(953.6,282.8) scale(1,1.02)" font-size="32" text-anchor="end" >300</text>
<text transform="translate(953.6,384.7) scale(1,1.02)" font-size="32" text-anchor="end" >200</text>
<text transform="translate(953.6,486.6) scale(1,1.02)" font-size="32" text-anchor="end" >100</text>
<text transform="translate(953.6,588.5) scale(1,1.02)" font-size="32" text-anchor="end" >0</text>
<text transform="translate(195.9,612.7) scale(1,1.05)" font-size="27.5" text-anchor="middle" >SIT</text>
<text transform="translate(353.5,615.9) scale(1,1.05)" font-size="27.5" text-anchor="middle" >LV-HIIT</text>
<text transform="translate(526.6,613) scale(1,1.05)" font-size="27.5" text-anchor="middle" >SIT</text>
<text transform="translate(679.6,616) scale(1,1.05)" font-size="27.5" text-anchor="middle" >LV-HIIT</text>
<text transform="translate(1049.8,612.5) scale(1,1.05)" font-size="27.5" text-anchor="middle" >SIT</text>
<text transform="translate(1206.5,615.6) scale(1,1.05)" font-size="27.5" text-anchor="middle" >LV-HIIT</text>
<text transform="translate(1380.3,612.5) scale(1,1.05)" font-size="27.5" text-anchor="middle" >SIT</text>
<text transform="translate(1533.4,615.4) scale(1,1.05)" font-size="27.5" text-anchor="middle" >LV-HIIT</text>
<text transform="translate(232.2,665.2) scale(1,1.05)" font-size="27">IHR<tspan font-size="19" dx="0.8" dy="5.5">peak</tspan></text>
<text transform="translate(562,666) scale(1,1.05)" font-size="27">IHR<tspan font-size="19" dx="0.8" dy="5.5">mean</tspan></text>
<text transform="translate(1085.5,665) scale(1,1.05)" font-size="27">IPO<tspan font-size="19" dx="0.8" dy="5.5">peak</tspan></text>
<text transform="translate(1416.2,665) scale(1,1.05)" font-size="27">IPO<tspan font-size="19" dx="0.8" dy="5.5">mean</tspan></text>
<text transform="translate(27,467.4) rotate(-90) scale(1,1.025)" font-size="32">Heart Rate (%HR<tspan font-size="24" dy="9.4">max</tspan><tspan font-size="32" dy="-9.4">)</tspan></text>
<text transform="translate(872.8,505.8) rotate(-90) scale(1,1.025)" font-size="32" xml:space="preserve" style="white-space:pre">Power Output  (% of W<tspan font-size="24" dy="9.4">max</tspan><tspan font-size="32" dy="-9.4">)</tspan></text>
<text transform="translate(674.5,151.1) scale(1,1.0)" font-size="28.5" text-anchor="middle" font-weight="bold">*</text>
<text transform="translate(1048,79.1) scale(1,0.965)" font-size="36" text-anchor="middle" font-style="italic">†</text>
<text transform="translate(1387.2,256) scale(1,0.965)" font-size="36" text-anchor="middle" font-style="italic">†</text>
</svg>
</body>
</html>
